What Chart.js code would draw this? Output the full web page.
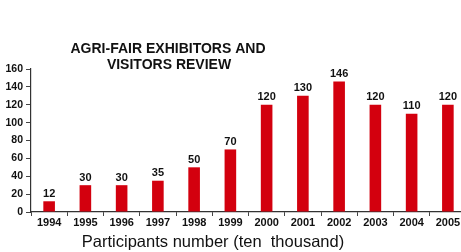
<!DOCTYPE html>
<html>
<head>
<meta charset="utf-8">
<script src="https://cdn.jsdelivr.net/npm/chart.js@4"></script>
<style>
  html, body { margin: 0; padding: 0; background: #fff; overflow: hidden; }
  #wrap { width: 466px; height: 252px; position: relative; }
</style>
</head>
<body>
<div id="wrap"><canvas id="chart"></canvas></div>
<script>
const years = ["1994", "1995", "1996", "1997", "1998", "1999", "2000", "2001", "2002", "2003", "2004", "2005"];
const participants = [12, 30, 30, 35, 50, 70, 120, 130, 146, 120, 110, 120];
const yTicks = [0, 20, 40, 60, 80, 100, 120, 140, 160];
const titleLines = ["AGRI-FAIR EXHIBITORS AND", "VISITORS REVIEW"];
const axisTitle = "Participants number (ten  thousand)";

const FONT = "'Liberation Sans', Arial, sans-serif";

// values over the bars + the two titles
const labelsPlugin = {
  id: "labelsPlugin",
  afterDatasetsDraw(chart) {
    const ctx = chart.ctx;
    const meta = chart.getDatasetMeta(0);
    ctx.save();
    ctx.fillStyle = "#111";
    ctx.font = "bold 11px " + FONT;
    ctx.textAlign = "center";
    ctx.textBaseline = "bottom";
    meta.data.forEach((bar, i) => {
      ctx.fillText(participants[i], bar.x, bar.y - 2);
    });

    ctx.font = "bold 14px " + FONT;
    ctx.textBaseline = "middle";
    ctx.fillText(titleLines[0], 168, 49);
    ctx.fillText(titleLines[1], 169, 65);

    ctx.font = "16.5px " + FONT;
    ctx.fillText(axisTitle, 213, 242);
    ctx.restore();
  }
};

new Chart(document.getElementById("chart"), {
  type: "bar",
  data: {
    labels: years,
    datasets: [{
      data: participants,
      backgroundColor: "#d3000e",
      barPercentage: 0.32,
      categoryPercentage: 1
    }]
  },
  options: {
    responsive: true,
    maintainAspectRatio: false,
    animation: false,
    layout: { padding: { top: 69, right: 0, bottom: 0, left: 0 } },
    plugins: {
      legend: { display: false },
      tooltip: { enabled: false },
      title: { display: false }
    },
    scales: {
      x: {
        grid: { offset: true, drawOnChartArea: false, drawTicks: true, tickLength: 4, color: "#444" },
        border: { display: true, color: "#333", width: 1.2 },
        ticks: {
          color: "#111",
          font: { family: FONT, size: 11, weight: "bold" },
          padding: 0,
          maxRotation: 0,
          autoSkip: false
        },
        afterFit(scale) { scale.height = 40; }
      },
      y: {
        min: 0,
        max: 160,
        afterBuildTicks(scale) { scale.ticks = yTicks.map(v => ({ value: v })); },
        grid: { drawOnChartArea: false, drawTicks: true, tickLength: 5, color: "#444" },
        border: { display: true, color: "#333", width: 1.2 },
        ticks: {
          color: "#111",
          font: { family: FONT, size: 10.5, weight: "bold" },
          padding: 3
        },
        afterFit(scale) { scale.width = 31; }
      }
    }
  },
  plugins: [labelsPlugin]
});
</script>
</body>
</html>
